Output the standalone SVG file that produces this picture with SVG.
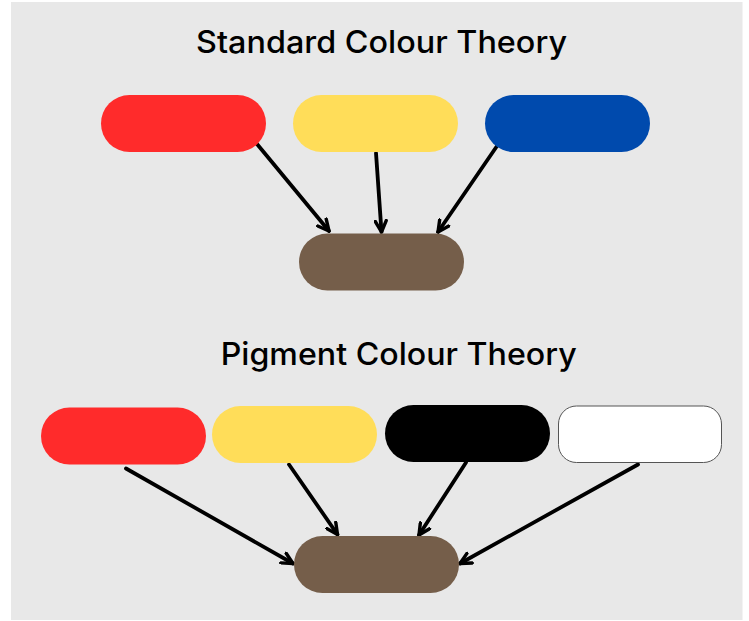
<svg xmlns="http://www.w3.org/2000/svg" width="749" height="621" viewBox="0 0 749 621">
<defs>
<style>
.title{font-family:Inter,"Liberation Sans",sans-serif;font-size:31px;font-weight:500;fill:#000;}
.conn{stroke:#000;stroke-width:3.8;fill:none;stroke-linecap:round;}
.red{fill:#FF2B2B;}
.yellow{fill:#FFDD59;}
.blue{fill:#004AAD;}
.brown{fill:#755E4A;}
.black{fill:#000;}
.white{fill:#fff;stroke:#555;stroke-width:1;}
</style>
<marker id="arr" viewBox="0 0 14 14" refX="12.5" refY="7" markerWidth="14" markerHeight="14" markerUnits="userSpaceOnUse" orient="auto">
<path d="M1.5,1.5 L12.5,7 L1.5,12.5" fill="none" stroke="#000" stroke-width="3.4" stroke-linecap="round" stroke-linejoin="round"/>
</marker>
</defs>
<rect x="0" y="0" width="749" height="621" fill="#fff"/>
<rect x="11" y="2" width="731.5" height="618" fill="#E8E8E8"/>
<text class="title" x="381.5" y="53" text-anchor="middle" textLength="371" lengthAdjust="spacingAndGlyphs">Standard Colour Theory</text>
<text class="title" x="398.7" y="364.5" text-anchor="middle" textLength="356" lengthAdjust="spacingAndGlyphs">Pigment Colour Theory</text>
<g id="connectors">
<line class="conn" x1="257" y1="144" x2="329" y2="231" marker-end="url(#arr)"/>
<line class="conn" x1="376" y1="153" x2="381.5" y2="232" marker-end="url(#arr)"/>
<line class="conn" x1="497" y1="146" x2="438" y2="232" marker-end="url(#arr)"/>
<line class="conn" x1="126" y1="468.5" x2="293" y2="563.5" marker-end="url(#arr)"/>
<line class="conn" x1="289" y1="464.5" x2="337.5" y2="534.5" marker-end="url(#arr)"/>
<line class="conn" x1="466" y1="462.5" x2="419" y2="535" marker-end="url(#arr)"/>
<line class="conn" x1="638" y1="464.5" x2="460" y2="563.5" marker-end="url(#arr)"/>
</g>
<g id="std-red"><rect class="red" x="101" y="95" width="165" height="57" rx="28.5"/></g>
<g id="std-yellow"><rect class="yellow" x="293" y="95" width="165" height="57" rx="28.5"/></g>
<g id="std-blue"><rect class="blue" x="485" y="95" width="165" height="57" rx="28.5"/></g>
<g id="std-brown"><rect class="brown" x="299" y="233.5" width="165" height="57" rx="28.5"/></g>
<g id="pig-red"><rect class="red" x="41" y="407.5" width="165" height="57" rx="28.5"/></g>
<g id="pig-yellow"><rect class="yellow" x="212" y="406" width="165" height="57" rx="28.5"/></g>
<g id="pig-black"><rect class="black" x="385" y="405" width="165" height="57" rx="28.5"/></g>
<g id="pig-white"><rect class="white" x="558.5" y="406" width="163" height="56.5" rx="18"/></g>
<g id="pig-brown"><rect class="brown" x="294" y="536" width="165" height="57" rx="28.5"/></g>
</svg>
